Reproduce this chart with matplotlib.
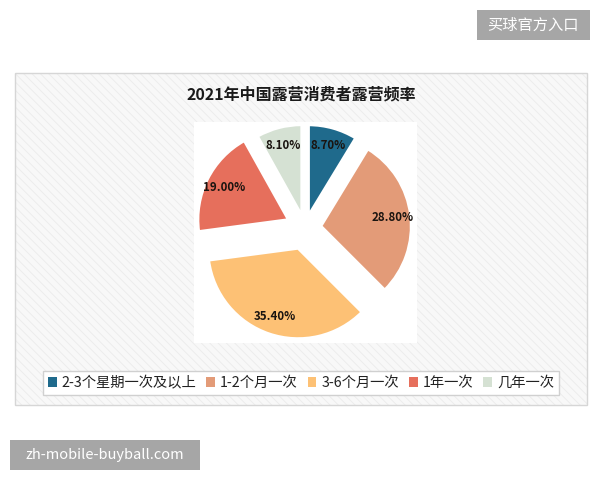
import matplotlib.pyplot as plt
from matplotlib.patches import Rectangle

plt.rcParams['font.family'] = ['Noto Sans CJK SC', 'DejaVu Sans']

# 数据
categories = ['2-3个星期一次及以上', '1-2个月一次', '3-6个月一次', '1年一次', '几年一次']
shares = [8.7, 28.8, 35.4, 19.0, 8.1]
colors = ['#1f6a8c', '#e39b78', '#fdc175', '#e66f5c', '#d5e1d3']
explode = [0.15, 0.18, 0.24, 0.21, 0.15]
title = '2021年中国露营消费者露营频率'

W, H = 600, 480
fig = plt.figure(figsize=(W / 100, H / 100), dpi=100)
fig.patch.set_facecolor('white')


def px_rect(x0, y0, x1, y1, **kw):
    # 像素坐标(左上原点) -> figure 坐标
    return Rectangle((x0 / W, 1 - y1 / H), (x1 - x0) / W, (y1 - y0) / H,
                     transform=fig.transFigure, **kw)


# 图表背景（斜纹），放在坐标轴下面
plt.rcParams['hatch.linewidth'] = 0.6
fig.patches.append(px_rect(15, 73, 587, 405, facecolor='#f8f8f8',
                           edgecolor='#ebebeb', hatch='\\\\\\\\', linewidth=0,
                           zorder=-10))
fig.patches.append(px_rect(15, 73, 587, 405, facecolor='none',
                           edgecolor='#d6d6d6', linewidth=1, zorder=-9))
fig.patches.append(px_rect(194, 122, 417, 343, facecolor='white',
                           edgecolor='none', zorder=-8))

# 饼图
R = 90
cx, cy = 305, 228
ax = fig.add_axes([(cx - 1.25 * R) / W, 1 - (cy + 1.25 * R) / H,
                   2.5 * R / W, 2.5 * R / H])
wedges, texts, autotexts = ax.pie(
    shares, colors=colors, explode=explode, startangle=90, counterclock=False,
    autopct='%.2f%%', pctdistance=0.8,
    wedgeprops=dict(edgecolor='white', linewidth=1.8),
    textprops=dict(fontsize=8.3, fontweight='bold', color='#1a1410'))
ax.set_xlim(-1.25, 1.25)
ax.set_ylim(-1.25, 1.25)
ax.set_aspect('equal')

fig.text(301 / W, 1 - 94 / H, title, ha='center', va='center',
         fontsize=11.5, fontweight='bold', color='#1a1a1a')

# 图例
leg = fig.legend(wedges, categories, loc='center', ncol=5,
                 bbox_to_anchor=(301 / W, 1 - 383 / H),
                 handlelength=0.6, handleheight=0.6, handletextpad=0.35,
                 columnspacing=0.7, borderpad=0.35, fontsize=10.3,
                 frameon=True, fancybox=False, edgecolor='#d0d0d0',
                 facecolor='white', framealpha=1)
for h in leg.legend_handles:
    h.set_linewidth(0)
for t in leg.get_texts():
    t.set_color('#222222')

# 水印
fig.patches.append(px_rect(477, 10, 590, 40, facecolor='#a6a6a6',
                           edgecolor='none'))
fig.text(533 / W, 1 - 25 / H, '买球官方入口', ha='center', va='center',
         fontsize=11, color='white')
fig.patches.append(px_rect(10, 440, 200, 470, facecolor='#a6a6a6',
                           edgecolor='none'))
fig.text(105 / W, 1 - 455 / H, 'zh-mobile-buyball.com', ha='center',
         va='center', fontsize=10.5, color='white')

fig.savefig('out.png', dpi=100, facecolor='white')
